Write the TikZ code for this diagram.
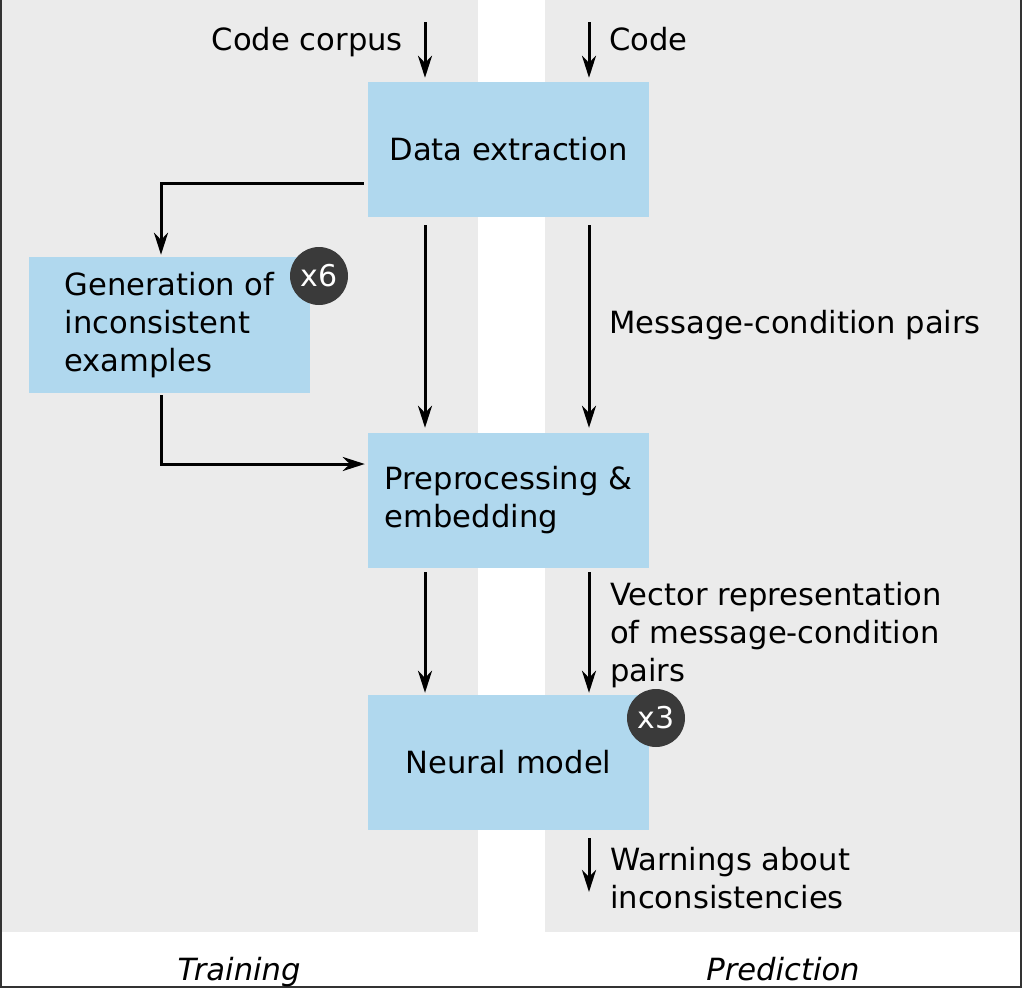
\documentclass[tikz,border=0pt]{standalone}
\usepackage{fontspec}
\setmainfont{DejaVu Sans}
\usetikzlibrary{arrows.meta}
\definecolor{panelgray}{HTML}{EBEBEB}
\definecolor{boxblue}{HTML}{B0D8EE}
\definecolor{badgegray}{HTML}{3A3A3A}
\definecolor{framegray}{HTML}{333333}
\tikzset{
  stagebox/.style={fill=boxblue, draw=none, minimum width=281pt, minimum height=135pt,
    inner sep=0pt, align=left, font=\fontsize{30.6}{38}\selectfont},
  badge/.style={circle, fill=badgegray, text=white, minimum size=58pt, inner sep=0pt,
    font=\fontsize{30}{32}\selectfont},
  lbl/.style={inner sep=0pt, align=left, font=\fontsize{30.6}{38}\selectfont},
  arr/.style={line width=3pt, -{Stealth[length=22pt,width=14pt,inset=7pt]}},
}
\begin{document}
\begin{tikzpicture}[x=1pt,y=-1pt]
\useasboundingbox (0,0) rectangle (1022,988);
% panels
\fill[white] (0,0) rectangle (1022,988);
\fill[panelgray] (0,0) rectangle (478,932);
\fill[panelgray] (545,0) rectangle (1022,932);
\draw[framegray, line width=2pt] (1,0) -- (1,987) -- (1021,987) -- (1021,0);
% column coordinates
\coordinate (cL) at (425,0);
\coordinate (cR) at (589,0);
\coordinate (inL) at (425,22);
\coordinate (inR) at (589,22);
\coordinate (outR) at (589,892);
% boxes
\node[stagebox] (de) at (508.5,149.5) {Data extraction};
\node[stagebox, minimum height=136pt] (gen) at (169.5,325) {Generation of\\inconsistent\\examples};
\node[stagebox] (pp) at (508.5,500.5) {Preprocessing \&\\embedding};
\node[stagebox] (nm) at (508.5,762.5) {Neural model};
\node[badge] (b6) at (319,276) {x6};
\node[badge] (b3) at (656,718) {x3};
% labels (base = baseline of last line)
\node[lbl, anchor=base east] (lcc) at (403,50) {Code corpus};
\node[lbl, anchor=base west] (lc) at (609,50) {Code};
\node[lbl, anchor=base west] (lmc) at (609,333) {Message-condition pairs};
\node[lbl, anchor=base west] (lv) at (610,681) {Vector representation\\of message-condition\\pairs};
\node[lbl, anchor=base west] (lw) at (610,908) {Warnings about\\inconsistencies};
\node[lbl, anchor=base, font=\fontsize{30.6}{38}\selectfont\itshape] (ltr) at (239,980) {Training};
\node[lbl, anchor=base, font=\fontsize{30.6}{38}\selectfont\itshape] (lpr) at (783,980) {Prediction};
% connectors
\draw[arr, shorten >=4pt] (inL) -- (de.north -| cL);
\draw[arr, shorten >=4pt] (inR) -- (de.north -| cR);
\draw[arr, shorten <=8pt, shorten >=5pt] (de.south -| cL) -- (pp.north -| cL);
\draw[arr, shorten <=8pt, shorten >=5pt] (de.south -| cR) -- (pp.north -| cR);
\draw[arr] ([xshift=-4pt,yshift=-33.5pt]de.west) -| ([xshift=-8.5pt,yshift=2pt]gen.north);
\draw[arr] ([xshift=-8.5pt,yshift=-2pt]gen.south) |- ([xshift=-3pt,yshift=36.5pt]pp.west);
\draw[arr, shorten <=4pt, shorten >=2pt] (pp.south -| cL) -- (nm.north -| cL);
\draw[arr, shorten <=4pt, shorten >=2pt] (pp.south -| cR) -- (nm.north -| cR);
\draw[arr, shorten <=8pt] (nm.south -| cR) -- (outR);
\end{tikzpicture}
\end{document}
